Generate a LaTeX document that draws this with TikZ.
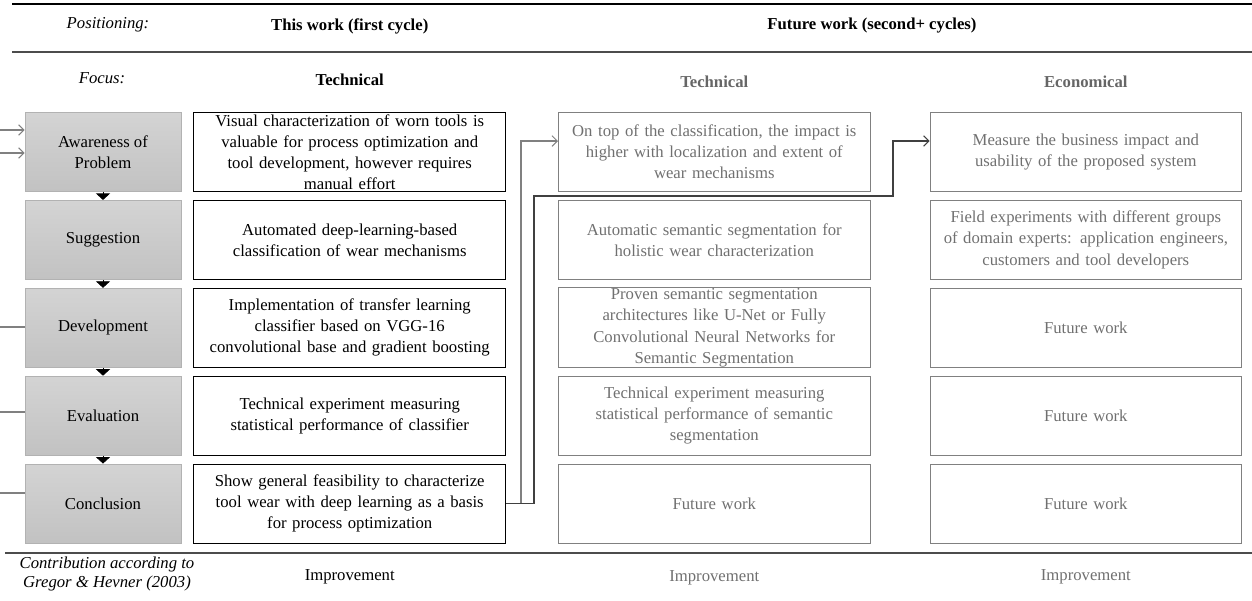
\documentclass[tikz,border=0pt]{standalone}
\usepackage{fontspec}
\setmainfont{Liberation Serif}
\usetikzlibrary{positioning,arrows.meta}

\tikzset{
  every node/.style={font=\fontsize{9.5}{12}\selectfont},
  phase/.style={draw=gray!60, line width=0.5pt, top color=gray!34, bottom color=gray!48,
    minimum width=3.12cm, minimum height=1.58cm, align=center, inner sep=1pt},
  thisbox/.style={draw=black, line width=0.6pt, minimum width=6.23cm, minimum height=1.58cm,
    text width=6.15cm, align=center, inner sep=0.5pt},
  nextbox/.style={thisbox, draw=black!50, text=black!56},
  colhead/.style={font=\fontsize{9.5}{12}\selectfont\bfseries},
  rowhead/.style={font=\fontsize{9.5}{12}\selectfont\itshape, align=center},
  steptip/.style={-{Triangle[length=0.13cm,width=0.28cm]}, line width=0.4pt},
  backline/.style={draw=gray, line width=0.6pt},
  backarrow/.style={backline, -{Straight Barb[length=3pt,width=6pt]}}
}

\begin{document}
\begin{tikzpicture}
\useasboundingbox (0,0) rectangle (25.04,-12);

% rules
\draw[line width=0.8pt] (0.24,-0.08) -- (25.04,-0.08);
\draw[line width=0.8pt, black!70] (0.24,-1.04) -- (25.04,-1.04);
\draw[line width=0.8pt, black!70] (0.1,-11.06) -- (25.04,-11.06);

% phases
\node[phase] (aw) at (2.06,-3.04) {Awareness of\\Problem};
\node[phase, below=0.16cm of aw] (sg) {Suggestion};
\node[phase, below=0.16cm of sg] (dv) {Development};
\node[phase, below=0.16cm of dv] (ev) {Evaluation};
\node[phase, below=0.16cm of ev] (cc) {Conclusion};
\foreach \a/\b in {aw/sg,sg/dv,dv/ev,ev/cc}
\draw[steptip] (\a) -- (\b);

% this work
\node[thisbox, right=0.24cm of aw] (aw1) {Visual characterization of worn tools is\\valuable for process optimization and\\tool development, however requires\\manual effort};
\node[thisbox, right=0.24cm of sg] (sg1) {Automated deep-learning-based\\classification of wear mechanisms};
\node[thisbox, right=0.24cm of dv] (dv1) {Implementation of transfer learning\\classifier based on VGG-16\\convolutional base and gradient boosting};
\node[thisbox, right=0.24cm of ev] (ev1) {Technical experiment measuring\\statistical performance of classifier};
\node[thisbox, right=0.24cm of cc] (cc1) {Show general feasibility to characterize\\tool wear with deep learning as a basis\\for process optimization};

% future work, technical
\node[nextbox, right=1.04cm of aw1] (aw2) {On top of the classification, the impact is\\higher with localization and extent of\\wear mechanisms};
\node[nextbox, right=1.04cm of sg1] (sg2) {Automatic semantic segmentation for\\holistic wear characterization};
\node[nextbox, right=1.04cm of dv1] (dv2) {Proven semantic segmentation\\architectures like U-Net or Fully\\Convolutional Neural Networks for\\Semantic Segmentation};
\node[nextbox, right=1.04cm of ev1] (ev2) {Technical experiment measuring\\statistical performance of semantic\\segmentation};
\node[nextbox, right=1.04cm of cc1] (cc2) {Future work};

% future work, economical
\node[nextbox, right=1.18cm of aw2] (aw3) {Measure the business impact and\\usability of the proposed system};
\node[nextbox, right=1.18cm of sg2] (sg3) {Field experiments with different groups\\of domain experts: application engineers,\\customers and tool developers};
\foreach \r in {dv,ev,cc}
\node[nextbox, right=1.18cm of \r2] (\r3) {Future work};

% headers
\node[rowhead] (pos) at (2.16,-0.5) {Positioning:};
\node[colhead] (pos1) at (aw1 |- 0,-0.52) {This work (first cycle)};
\node[colhead] (pos2) at (17.44,-0.52) {Future work (second+ cycles)};
\node[rowhead] (foc) at (2.04,-1.56) {Focus:};
\node[colhead] (foc1) at (aw1 |- 0,-1.6) {Technical};
\node[colhead, text=black!60] (foc2) at (aw2 |- 0,-1.64) {Technical};
\node[colhead, text=black!60] (foc3) at (aw3 |- 0,-1.64) {Economical};
\node[rowhead, font=\fontsize{9.5}{10.8}\selectfont\itshape] (con) at (2.14,-11.48) {Contribution according to\\Gregor \& Hevner (2003)};
\node (con1) at (aw1 |- 0,-11.54) {Improvement};
\node[text=black!56] (con2) at (aw2 |- 0,-11.56) {Improvement};
\node[text=black!56] (con3) at (aw3 |- 0,-11.54) {Improvement};

% loop back
\coordinate (in1) at (0,-2.6);
\coordinate (in2) at (0,-3.06);
\draw[backarrow] (in1) -- (in1 -| aw.west);
\draw[backarrow] (in2) -- (in2 -| aw.west);
\foreach \y/\n in {-6.54/dv,-8.24/ev,-9.86/cc}{
\coordinate (f\n) at (0,\y);
\draw[backline] (f\n) -- (f\n -| \n.west);
}

% next cycles
\coordinate (kink) at (17.86,-3.92);
\draw[backarrow] (cc1.east) -- ++(0.3,0) |- ([yshift=0.22cm]aw2.west);
\draw[backarrow, draw=black!75] (cc1.east) -- ++(0.56,0) |- (kink) |- ([yshift=0.22cm]aw3.west);
\end{tikzpicture}
\end{document}
